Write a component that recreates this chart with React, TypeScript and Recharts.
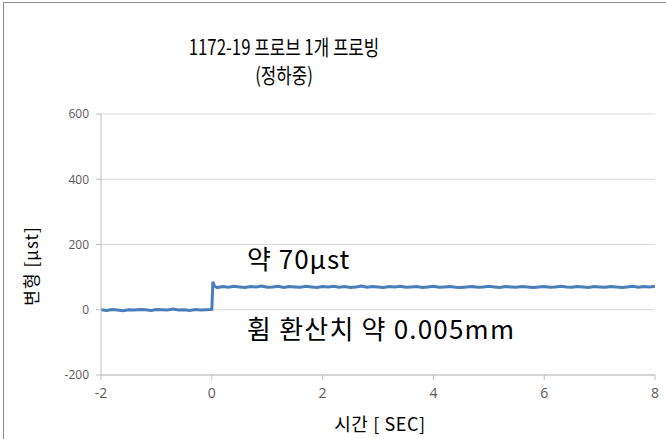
import { LineChart, Line, XAxis, YAxis, CartesianGrid } from 'recharts';

// time [sec]
const times = [
  -2.0, -1.9, -1.8, -1.7, -1.6, -1.5, -1.4, -1.3, -1.2, -1.1,
  -1.0, -0.9, -0.8, -0.7, -0.6, -0.5, -0.4, -0.3, -0.2, -0.1, 0.0,
  0.02, 0.05,
  0.1, 0.2, 0.3, 0.4, 0.5, 0.6, 0.7, 0.8, 0.9, 1.0,
  1.1, 1.2, 1.3, 1.4, 1.5, 1.6, 1.7, 1.8, 1.9, 2.0,
  2.1, 2.2, 2.3, 2.4, 2.5, 2.6, 2.7, 2.8, 2.9, 3.0,
  3.1, 3.2, 3.3, 3.4, 3.5, 3.6, 3.7, 3.8, 3.9, 4.0,
  4.1, 4.2, 4.3, 4.4, 4.5, 4.6, 4.7, 4.8, 4.9, 5.0,
  5.1, 5.2, 5.3, 5.4, 5.5, 5.6, 5.7, 5.8, 5.9, 6.0,
  6.1, 6.2, 6.3, 6.4, 6.5, 6.6, 6.7, 6.8, 6.9, 7.0,
  7.1, 7.2, 7.3, 7.4, 7.5, 7.6, 7.7, 7.8, 7.9, 8.0,
];

// strain [μst]
const strain = [
  0, -2, 1, -1, -3, 0, -1, 1, 0, -2,
  1, 0, -1, 2, -1, 0, -2, 1, -1, 0, 1,
  86, 72,
  68, 71, 69, 72, 70, 68, 71, 70, 73, 69,
  70, 72, 68, 71, 70, 69, 72, 70, 68, 71,
  70, 72, 69, 71, 68, 70, 73, 69, 71, 70,
  68, 71, 70, 72, 69, 70, 71, 68, 70, 72,
  69, 70, 71, 69, 68, 70, 71, 69, 70, 72,
  70, 68, 71, 70, 69, 71, 70, 68, 70, 71,
  69, 70, 72, 70, 69, 71, 70, 68, 71, 70,
  69, 71, 70, 68, 70, 72, 69, 71, 70, 72,
];

const xTicks = [-2, 0, 2, 4, 6, 8];
const yTicks = [-200, 0, 200, 400, 600];

const titleLines = ['1172-19 프로브 1개 프로빙', '(정하중)'];
const noteTop = '약 70μst';
const noteBottom = '휨 환산치 약 0.005mm';

const krFont = '"Noto Sans CJK KR", "Noto Sans", sans-serif';
const tickFont = '"Open Sans", "Noto Sans", sans-serif';

export default function App() {
  const data = times.map((t, i) => ({ t, v: strain[i] }));

  return (
    <div
      style={{
        position: 'absolute',
        left: 0,
        top: 0,
        width: 666,
        height: 439,
        overflow: 'hidden',
        background: '#fff',
      }}
    >
      {/* outer chart frame (cropped at right/bottom) */}
      <div
        style={{
          position: 'absolute',
          left: 3,
          top: 2,
          width: 700,
          height: 500,
          border: '1px solid #8c8c8c',
        }}
      />

      <LineChart
        width={666}
        height={439}
        data={data}
        margin={{ top: 114, right: 11, bottom: 34, left: 0 }}
        style={{ position: 'absolute', left: 0, top: 0 }}
      >
        <CartesianGrid vertical={false} stroke="#d9d9d9" />
        <XAxis
          dataKey="t"
          type="number"
          domain={[-2, 8]}
          ticks={xTicks}
          height={30}
          stroke="#bfbfbf"
          tickSize={5}
          tickMargin={8}
          tick={{ fill: '#595959', fontSize: 14, fontFamily: tickFont }}
        />
        <YAxis
          type="number"
          domain={[-200, 600]}
          ticks={yTicks}
          width={101}
          stroke="#bfbfbf"
          tickSize={5}
          tickMargin={7}
          tick={{ fill: '#595959', fontSize: 12, fontFamily: tickFont }}
        />
        <Line
          dataKey="v"
          type="linear"
          stroke="#4a7ebb"
          strokeWidth={3}
          dot={false}
          isAnimationActive={false}
        />
      </LineChart>

      {/* title */}
      <div
        style={{
          position: 'absolute',
          left: 84,
          width: 400,
          top: 32,
          textAlign: 'center',
          fontFamily: krFont,
          fontSize: 21,
          lineHeight: '28px',
          color: '#000',
          whiteSpace: 'nowrap',
          transform: 'scaleX(0.8)',
        }}
      >
        {titleLines.map((l) => (
          <div key={l}>{l}</div>
        ))}
      </div>

      {/* annotations */}
      <div
        style={{
          position: 'absolute',
          left: 247,
          top: 242,
          fontFamily: krFont,
          fontSize: 26,
          letterSpacing: 1,
          lineHeight: '32px',
          whiteSpace: 'nowrap',
        }}
      >
        {noteTop}
      </div>
      <div
        style={{
          position: 'absolute',
          left: 247,
          top: 312,
          fontFamily: krFont,
          fontSize: 26,
          letterSpacing: 1.2,
          lineHeight: '32px',
          whiteSpace: 'nowrap',
        }}
      >
        {noteBottom}
      </div>

      {/* axis titles */}
      <div
        style={{
          position: 'absolute',
          left: 280,
          width: 200,
          top: 411,
          textAlign: 'center',
          fontFamily: krFont,
          fontSize: 18,
          letterSpacing: 0.6,
          lineHeight: '24px',
          whiteSpace: 'nowrap',
        }}
      >
        시간 [ SEC]
      </div>
      <div
        style={{
          position: 'absolute',
          left: 31,
          top: 266,
          transform: 'translate(-50%, -50%) rotate(-90deg)',
          fontFamily: krFont,
          fontSize: 17,
          letterSpacing: 1,
          lineHeight: '22px',
          whiteSpace: 'nowrap',
        }}
      >
        변형 [μst]
      </div>
    </div>
  );
}
